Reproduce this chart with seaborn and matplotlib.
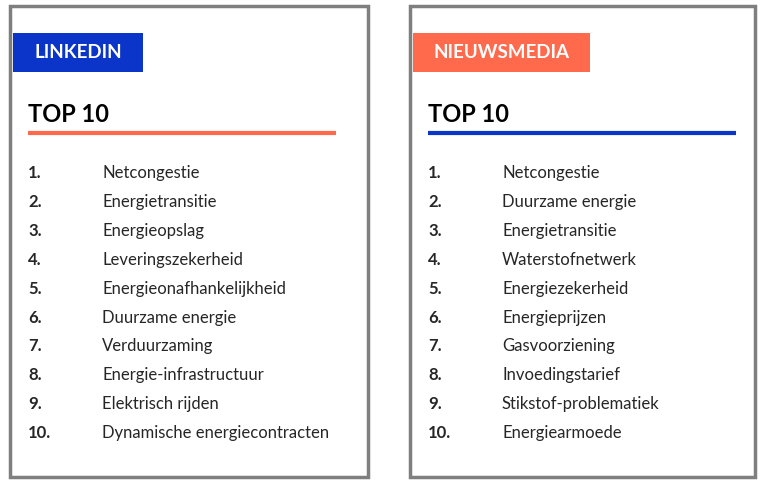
import matplotlib
matplotlib.use("Agg")
import matplotlib.pyplot as plt
import seaborn as sns
from matplotlib.patches import Rectangle

sns.set_style("white")
plt.rcParams['font.family'] = ['Lato', 'DejaVu Sans']

panels = ["LINKEDIN", "NIEUWSMEDIA"]
heading = "TOP 10"
ranks = ["1.", "2.", "3.", "4.", "5.", "6.", "7.", "8.", "9.", "10."]
linkedin_topics = ["Netcongestie", "Energietransitie", "Energieopslag", "Leveringszekerheid",
                   "Energieonafhankelijkheid", "Duurzame energie", "Verduurzaming",
                   "Energie-infrastructuur", "Elektrisch rijden", "Dynamische energiecontracten"]
news_topics = ["Netcongestie", "Duurzame energie", "Energietransitie", "Waterstofnetwerk",
               "Energiezekerheid", "Energieprijzen", "Gasvoorziening", "Invoedingstarief",
               "Stikstof-problematiek", "Energiearmoede"]

BLUE = "#0A35C8"
ORANGE = "#FF6A4D"
GRAY = "#7F7F7F"

fig = plt.figure(figsize=(7.6, 4.86), dpi=100)
ax = fig.add_axes([0, 0, 1, 1])
ax.set_xlim(0, 760)
ax.set_ylim(486, 0)
ax.axis("off")

specs = [
    dict(x0=10, x1=368, tag_w=130, tag_col=BLUE, line_col=ORANGE, topics=linkedin_topics),
    dict(x0=410, x1=755, tag_w=177, tag_col=ORANGE, line_col=BLUE, topics=news_topics),
]
for name, s in zip(panels, specs):
    x0 = s["x0"]
    ax.add_patch(Rectangle((x0, 6), s["x1"] - x0, 471, fill=False, edgecolor=GRAY, lw=2.5))
    ax.add_patch(Rectangle((x0 + 3, 33), s["tag_w"], 39, facecolor=s["tag_col"], edgecolor="none"))
    ax.text(x0 + 3 + s["tag_w"] / 2, 53, name, color="white", fontsize=13.5, fontweight="bold",
            ha="center", va="center")
    ax.text(x0 + 18, 114, heading, color="black", fontsize=17, fontweight="bold", ha="left", va="center")
    ax.plot([x0 + 18, x0 + 326], [133, 133], color=s["line_col"], lw=3, solid_capstyle="butt")
    for i, (r, t) in enumerate(zip(ranks, s["topics"])):
        y = 173 + i * 28.9
        ax.text(x0 + 18, y, r, fontsize=12, fontweight="bold", ha="left", va="center")
        ax.text(x0 + 92, y, t, fontsize=12, ha="left", va="center")

fig.savefig("out.png", dpi=100, facecolor="white")
